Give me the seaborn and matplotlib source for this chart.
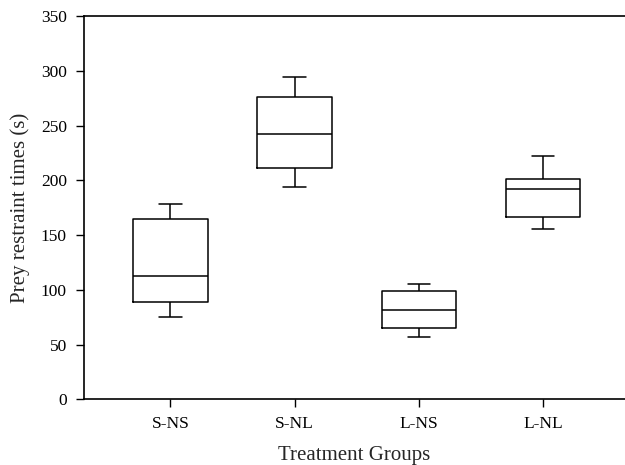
import numpy as np
import pandas as pd
import matplotlib
matplotlib.use("Agg")
import matplotlib.pyplot as plt
import seaborn as sns

# ─── DATA (five-number summaries) ───
groups = ["S-NS", "S-NL", "L-NS", "L-NL"]
mins    = [75, 194, 57, 156]
q1s     = [89, 211, 65, 167]
medians = [113, 242, 82, 192]
q3s     = [165, 276, 99, 201]
maxs    = [178, 294, 105, 222]

# 5 values per group -> quartiles land exactly on q1/median/q3
rows = []
for g, a, b, c, d, e in zip(groups, mins, q1s, medians, q3s, maxs):
    for v in (a, b, c, d, e):
        rows.append({"group": g, "time": v})
df = pd.DataFrame(rows)

# ─── STYLE ───
sns.set_style("ticks")
plt.rcParams["font.family"] = ["Liberation Serif", "DejaVu Serif"]
plt.rcParams["xtick.major.size"] = 6
plt.rcParams["ytick.major.size"] = 6

fig = plt.figure(figsize=(6.25, 4.65), dpi=100)
ax = fig.add_axes([83.5 / 625, 0.1409, (625 - 83.5) / 625, 0.8247])

sns.boxplot(data=df, x="group", y="time", order=groups, ax=ax,
            fill=False, color="black", linewidth=1.1, width=0.6,
            whis=(0, 100), capwidths=0.18)

ax.set_xlim(-0.7, 3.66)
ax.set_ylim(0, 350)
ax.set_yticks(np.arange(0, 351, 50))
ax.spines["right"].set_visible(False)
for s in ("left", "bottom", "top"):
    ax.spines[s].set_linewidth(1.2)
    ax.spines[s].set_color("black")
ax.tick_params(axis="both", labelsize=12.5, colors="black", width=1, pad=6)
ax.tick_params(axis="x", pad=6)

ax.set_xlabel("Treatment Groups", fontsize=15, labelpad=10)
ax.set_ylabel("Prey restraint times (s)", fontsize=15, labelpad=8)

fig.savefig("out.png", dpi=100)
